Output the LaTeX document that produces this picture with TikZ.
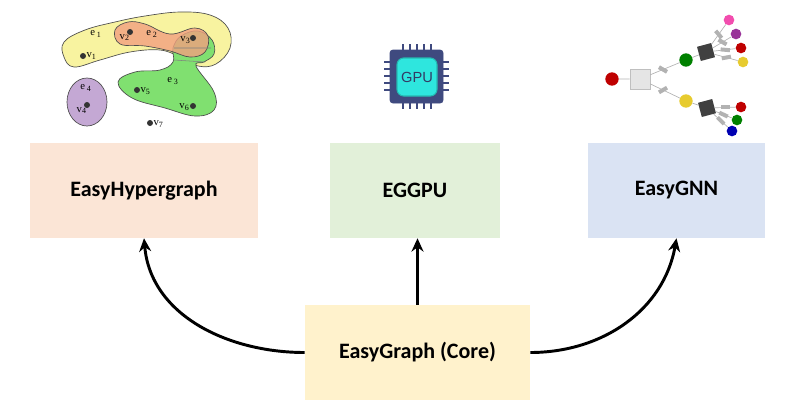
\documentclass[tikz,border=0pt]{standalone}
\usepackage{fontspec}
\setmainfont{Carlito}
\usetikzlibrary{arrows.meta,calc}
\definecolor{peach}{HTML}{FBE5D6}
\definecolor{lgreen}{HTML}{E2F0D9}
\definecolor{lblue}{HTML}{DAE3F3}
\definecolor{lyellow}{HTML}{FFF2CC}
\definecolor{gpublue}{HTML}{3F4A7F}
\definecolor{gpucyan}{HTML}{2EE6DE}
\definecolor{hy}{HTML}{F8F3A0}
\definecolor{hr}{HTML}{F2A080}
\definecolor{hg}{HTML}{80E070}
\definecolor{hv}{HTML}{C4A8D4}
\begin{document}
\begin{tikzpicture}[x=0.75pt,y=-0.75pt,
  box/.style={draw=none,minimum height=71.25pt,font=\bfseries\fontsize{16.5}{19}\selectfont,inner sep=0pt},
  arr/.style={line width=2.2pt,-{Stealth[length=10pt,width=9pt]}},
  vtx/.style={circle,fill=black!80,inner sep=0pt,minimum size=4.5pt},
  lab/.style={font=\fontspec{Liberation Serif}\fontsize{8}{9}\selectfont,inner sep=0pt},
  gn/.style={circle,inner sep=0pt,minimum size=#1},
  eb/.style={fill=gray!60,rotate=#1,minimum width=3pt,minimum height=7pt,inner sep=0pt},
  gl/.style={draw=gray!60,line width=0.5pt}]
\useasboundingbox (0,0) rectangle (800,419);
\node[box,fill=peach,minimum width=171pt] (hg) at (144,190.5) {EasyHypergraph};
\node[box,fill=lgreen,minimum width=127.5pt] (gpu) at (415,190.5) {EGGPU};
\node[box,fill=lblue,minimum width=132.75pt] (gnn) at (676.5,190.5) {EasyGNN};
\node[box,fill=lyellow,minimum width=168.75pt] (core) at (417.5,352.5) {EasyGraph (Core)};
\draw[arr] (core.west) to[out=180,in=-85] (hg.south);
\draw[arr] (core.north) -- (core.north|-gpu.south);
\draw[arr] (core.east) to[out=0,in=-100] (gnn.south);
% hypergraph
\draw[fill=hy,draw=black!70,line width=0.5pt] plot[smooth cycle,tension=0.65] coordinates{(64,42)(85,30)(115,22)(145,16)(180,12)(210,15)(228,28)(230,48)(216,64)(198,66)(180,57)(160,50)(130,52)(100,60)(74,67)(64,57)};
\draw[fill=hg,draw=black!70,line width=0.5pt] plot[smooth cycle,tension=0.65] coordinates{(173,48)(181,36)(198,31)(212,40)(214,54)(204,62)(196,66)(214,92)(214,110)(195,116)(165,108)(132,98)(118,82)(135,72)(160,70)(173,62)};
\draw[fill=hr,draw=black!70,line width=0.5pt,fill opacity=0.8] plot[smooth cycle,tension=0.65] coordinates{(115,30)(128,22)(145,24)(170,34)(195,28)(208,36)(205,52)(190,57)(170,51)(145,46)(120,44)};
\draw[black!50,line width=0.4pt] (174,48)--(211,48) (174,60)--(205,62);
\draw[fill=hv,draw=black!70,line width=0.5pt] (87,102) ellipse (20 and 24);
\foreach \n/\p in {1/{(83,56)},2/{(130,32)},3/{(193,38)},4/{(87,105)},5/{(137,90)},6/{(193,106)},7/{(150,123)}} \node[vtx] (v\n) at \p {};
\node[lab,anchor=west] at (v1.east) {v\textsubscript{1}};
\node[lab,anchor=north east] at ([yshift=1pt]v2.south) {v\textsubscript{2}};
\node[lab,anchor=north east] at ([yshift=3pt]v3.south west) {v\textsubscript{3}};
\node[lab,anchor=north east] at ([yshift=1pt]v4.south) {v\textsubscript{4}};
\node[lab,anchor=north west] at ([yshift=2pt]v5.east) {v\textsubscript{5}};
\node[lab,anchor=north east] at ([yshift=2pt]v6.west) {v\textsubscript{6}};
\node[lab,anchor=north west] at ([yshift=2pt]v7.east) {v\textsubscript{7}};
\node[lab] at (96,34) {e\,\textsubscript{1}};
\node[lab] at (152,34) {e\,\textsubscript{2}};
\node[lab] at (173,81) {e\,\textsubscript{3}};
\node[lab] at (86,88) {e\,\textsubscript{4}};
% GPU icon
\foreach \i in {0,...,4}{
 \draw[gpublue,line width=1.3pt] (403+\i*7,44)--(403+\i*7,50) (403+\i*7,103)--(403+\i*7,109);
 \draw[gpublue,line width=1.3pt] (384,62+\i*7)--(390,62+\i*7) (443,62+\i*7)--(449,62+\i*7);}
\draw[gpublue,fill=gpublue,rounded corners=2pt] (390,50) rectangle (443,103);
\draw[gpucyan!80!black,fill=gpucyan,rounded corners=5pt,line width=0.8pt] (397,58) rectangle (437,96);
\node[font=\fontspec{Liberation Sans}\fontsize{11}{11}\selectfont,text=gpublue!80!black] (gputxt) at (417,77) {GPU};
% GNN
\node[gn=10pt,fill=red!75!black] (root) at (612,79) {};
\node[draw=gray!50,fill=gray!20,minimum size=15pt,inner sep=0pt] (sq) at (640,79) {};
\node[gn=10pt,fill=green!50!black] (g1) at (686,60) {};
\node[gn=10pt,fill=yellow!60!brown] (g2) at (686,101) {};
\node[fill=darkgray,minimum size=11pt,inner sep=0pt,rotate=15] (d1) at (706,52) {};
\node[fill=darkgray,minimum size=11pt,inner sep=0pt,rotate=15] (d2) at (707,108) {};
\node[gn=8pt,fill=magenta!70] (l1) at (729,20) {};
\node[gn=8pt,fill=violet!80] (l2) at (736,34) {};
\node[gn=8pt,fill=red!75!black] (l3) at (741,48) {};
\node[gn=8pt,fill=yellow!60!brown] (l4) at (743,62) {};
\node[gn=8pt,fill=red!75!black] (l5) at (741,107) {};
\node[gn=8pt,fill=green!50!black] (l6) at (737,120) {};
\node[gn=8pt,fill=blue!70!black] (l7) at (732,131) {};
\draw[gl] (root)--(sq) (sq)--(g1) (sq)--(g2) (g1)--(d1) (g2)--(d2);
\foreach \l in {l1,l2,l3,l4} \draw[gl] (d1)--(\l);
\foreach \l in {l5,l6,l7} \draw[gl] (d2)--(\l);
\node[eb=60] at ($(sq)!0.5!(g1)$) {};
\node[eb=-60] at ($(sq)!0.5!(g2)$) {};
\node[eb=40] at ($(d1)!0.55!(l1)$) {};
\node[eb=60] at ($(d1)!0.55!(l2)$) {};
\node[eb=85] at ($(d1)!0.55!(l3)$) {};
\node[eb=100] at ($(d1)!0.55!(l4)$) {};
\node[eb=90] at ($(d2)!0.55!(l5)$) {};
\node[eb=65] at ($(d2)!0.55!(l6)$) {};
\node[eb=45] at ($(d2)!0.55!(l7)$) {};
\end{tikzpicture}
\end{document}
